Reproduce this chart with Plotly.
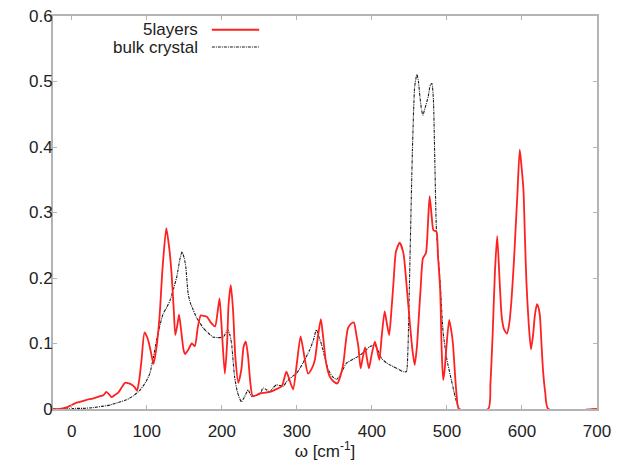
import plotly.graph_objects as go

# 5layers (red)
red_w = [-25, -16, -8, -2, 5, 11, 20, 28, 36, 42, 46, 50, 53, 57, 62, 66, 71, 76, 80, 84, 87, 90, 93, 97,
         101, 104, 107, 109, 113, 117, 121, 126, 130, 133, 136, 138, 141, 143, 146, 149, 151, 155, 160, 164,
         168, 172, 176, 180, 186, 191, 194, 197, 200, 204, 207, 209, 212, 215, 218, 222, 226, 229, 232, 235,
         238, 241, 246, 251, 258, 264, 272, 280, 286, 290, 295, 300, 305, 310, 315, 320, 324, 328, 332, 335,
         339, 344, 349, 354, 358, 362, 365, 368, 372, 376, 379, 382, 385, 388, 391, 393, 396, 400, 404, 407,
         410, 413, 417, 420, 423, 426, 429, 432, 437, 442, 446, 451, 454, 457, 460, 462, 465, 468, 472, 475,
         477, 480, 482, 486, 488, 491, 493, 495, 497, 499, 503, 506, 508, 511, 513, 516, 555, 558, 561, 564,
         567, 570, 573, 576, 580, 583, 586, 589, 591, 594, 597, 599, 602, 604, 606, 609, 612, 615, 617, 620,
         622, 624, 626, 628, 631, 635, 700]
red_v = [0, 0, 0.002, 0.005, 0.009, 0.011, 0.014, 0.016, 0.019, 0.021, 0.026, 0.022, 0.018, 0.021, 0.025,
         0.032, 0.040, 0.039, 0.037, 0.033, 0.028, 0.045, 0.075, 0.117, 0.108, 0.095, 0.078, 0.069, 0.095,
         0.141, 0.215, 0.276, 0.245, 0.207, 0.150, 0.113, 0.130, 0.144, 0.118, 0.090, 0.084, 0.090, 0.100,
         0.096, 0.125, 0.143, 0.142, 0.141, 0.131, 0.126, 0.145, 0.169, 0.120, 0.054, 0.100, 0.160, 0.189,
         0.150, 0.080, 0.040, 0.060, 0.095, 0.103, 0.080, 0.040, 0.020, 0.021, 0.024, 0.025, 0.026, 0.030,
         0.035, 0.057, 0.045, 0.030, 0.070, 0.111, 0.080, 0.054, 0.062, 0.075, 0.110, 0.137, 0.110, 0.070,
         0.049, 0.042, 0.039, 0.050, 0.070, 0.100, 0.123, 0.130, 0.132, 0.115, 0.095, 0.062, 0.080, 0.094,
         0.080, 0.062, 0.085, 0.103, 0.090, 0.075, 0.110, 0.149, 0.130, 0.113, 0.150, 0.197, 0.240, 0.254,
         0.238, 0.192, 0.126, 0.090, 0.067, 0.095, 0.131, 0.185, 0.230, 0.238, 0.290, 0.325, 0.290, 0.273,
         0.271, 0.235, 0.182, 0.090, 0.044, 0.060, 0.090, 0.136, 0.118, 0.100, 0.049, 0.020, 0.0, 0.0, 0.040,
         0.116, 0.210, 0.264, 0.200, 0.141, 0.122, 0.115, 0.130, 0.166, 0.220, 0.263, 0.330, 0.396, 0.375,
         0.334, 0.260, 0.192, 0.130, 0.091, 0.115, 0.141, 0.160, 0.155, 0.141, 0.100, 0.060, 0.025, 0.0, 0.0]

# bulk crystal (black dotted)
bulk_w = [-25, -8, 5, 15, 28, 40, 51, 62, 73, 82, 91, 98, 104, 109, 113, 118, 122, 127, 131, 136, 140, 144,
          147, 150, 152, 155, 158, 162, 166, 171, 175, 180, 188, 195, 202, 208, 211, 213, 217, 221, 226, 230,
          235, 240, 245, 251, 255, 260, 264, 268, 273, 277, 282, 286, 291, 300, 308, 317, 322, 326, 330, 333,
          338, 342, 347, 353, 359, 366, 375, 384, 390, 397, 404, 408, 413, 420, 428, 435, 442, 446, 448, 451,
          454, 457, 460, 462, 464, 466, 468, 471, 475, 478, 480, 482, 484, 486, 491, 495, 500, 506, 511, 517, 700]
bulk_v = [0, 0, 0.001, 0.001, 0.002, 0.004, 0.006, 0.010, 0.014, 0.020, 0.029, 0.040, 0.054, 0.080, 0.105,
          0.130, 0.146, 0.156, 0.166, 0.185, 0.202, 0.228, 0.240, 0.230, 0.217, 0.177, 0.162, 0.151, 0.140,
          0.131, 0.124, 0.118, 0.110, 0.109, 0.110, 0.121, 0.112, 0.100, 0.049, 0.025, 0.011, 0.018, 0.029,
          0.019, 0.021, 0.023, 0.032, 0.029, 0.026, 0.032, 0.037, 0.036, 0.035, 0.041, 0.047, 0.055, 0.070,
          0.090, 0.105, 0.121, 0.108, 0.098, 0.075, 0.060, 0.050, 0.045, 0.055, 0.070, 0.076, 0.082, 0.088,
          0.095, 0.098, 0.090, 0.077, 0.070, 0.065, 0.061, 0.057, 0.057, 0.090, 0.243, 0.395, 0.492, 0.511,
          0.500, 0.477, 0.458, 0.449, 0.460, 0.477, 0.495, 0.497, 0.472, 0.370, 0.273, 0.192, 0.116, 0.075,
          0.044, 0.019, 0.0, 0.0]

x_ticks = [0, 100, 200, 300, 400, 500, 600, 700]
y_ticks = [0, 0.1, 0.2, 0.3, 0.4, 0.5, 0.6]
y_tick_text = ["0", "0.1", "0.2", "0.3", "0.4", "0.5", "0.6"]

FONT = "Liberation Sans, Arial, sans-serif"
AXIS_GREY = "#b4b4b4"
RED = "#ff2020"
BLACK = "#1a1a1a"
DOT = "3px,1px,1px,1px"

fig = go.Figure()
fig.add_trace(go.Scatter(x=bulk_w, y=bulk_v, mode="lines", name="bulk crystal",
                         line=dict(color=BLACK, width=1.1, dash=DOT, shape="spline", smoothing=0.5),
                         showlegend=False))
fig.add_trace(go.Scatter(x=red_w, y=red_v, mode="lines", name="5layers",
                         line=dict(color=RED, width=1.8, shape="spline", smoothing=0.6),
                         showlegend=False))

# legend drawn gnuplot-style (text right, sample on the right)
legend_items = [("5layers", RED, 1.8, "solid", 0.965),
                ("bulk crystal", BLACK, 1.1, DOT, 0.921)]
for label, col, wdt, dsh, ypos in legend_items:
    fig.add_annotation(xref="paper", yref="paper", x=0.271, y=ypos, text=label, showarrow=False,
                       xanchor="right", yanchor="middle", font=dict(family=FONT, size=17, color="#222"))
    fig.add_shape(type="line", xref="paper", yref="paper", x0=0.292, x1=0.379, y0=ypos, y1=ypos,
                  line=dict(color=col, width=wdt, dash=dsh))

fig.update_layout(
    width=623, height=461,
    margin=dict(l=53, r=26, t=16, b=52),
    paper_bgcolor="white", plot_bgcolor="white",
    font=dict(family=FONT, size=17, color="#222"),
    xaxis=dict(range=[-25, 700], tickvals=x_ticks, ticks="inside", ticklen=4, tickcolor=AXIS_GREY,
               showline=True, linecolor=AXIS_GREY, linewidth=2, mirror="ticks",
               showgrid=False, zeroline=False, automargin=False, ticklabelstandoff=6,
               title=dict(text="ω [cm<sup>-1</sup>]", font=dict(size=17), standoff=2)),
    yaxis=dict(range=[0, 0.6], tickvals=y_ticks, ticktext=y_tick_text, ticks="inside", ticklen=4,
               tickcolor=AXIS_GREY, showline=True, linecolor=AXIS_GREY, linewidth=2, mirror="ticks",
               showgrid=False, zeroline=False, automargin=False, ticklabelstandoff=-5),
)

fig.write_html("out.html", config={"displayModeBar": False},
               post_script="document.body.style.margin='0';")
